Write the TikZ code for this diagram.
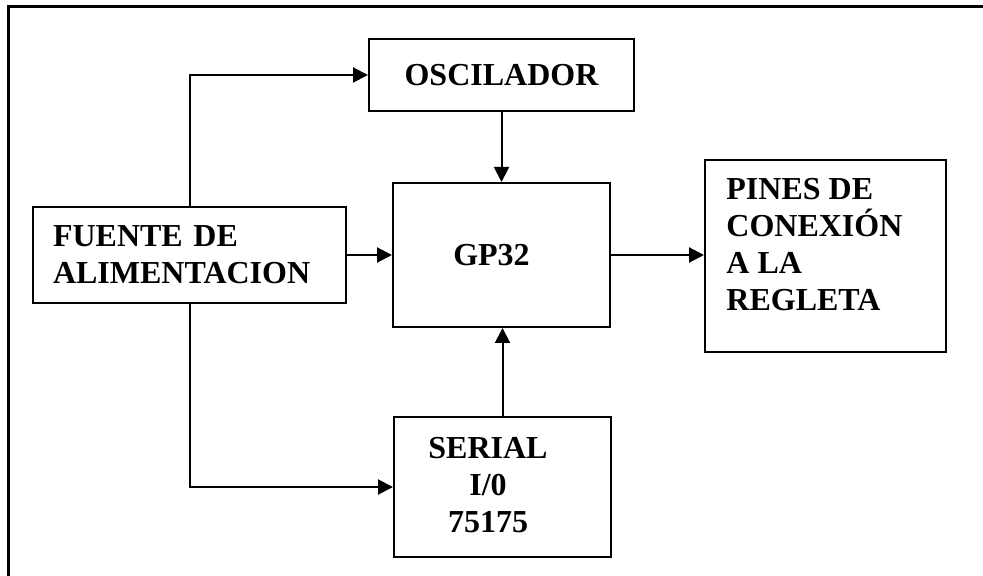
\documentclass[tikz,border=0pt]{standalone}
\usepackage{fontspec}
\setmainfont{Liberation Serif}
\usetikzlibrary{arrows.meta, positioning}

\begin{document}
\begin{tikzpicture}[
    x=0.5pt, y=-0.5pt,
    >={Triangle[length=7.5pt, width=7.5pt]},
    blk/.style={draw, line width=1pt, inner sep=0pt, font=\fontsize{16pt}{18.5pt}\selectfont\bfseries},
    txt/.style={inner sep=0pt, font=\fontsize{16pt}{18.5pt}\selectfont\bfseries},
    arr/.style={->, line width=1pt},
    frame/.style={line width=1.5pt},
]
\useasboundingbox (0,0) rectangle (983,576);
% ----- the frame round the figure, cut off at the right and at the bottom
\draw[frame] (8.5,576) -- (8.5,6.5) -- (983,6.5);
% ----- the blocks
\node[blk, minimum width=132.5pt, minimum height=36pt] (osc) at (501.5,75) {OSCILADOR};
\node[blk, minimum width=108.5pt, minimum height=72pt] (gp) at (501.5,255) {\hspace*{-10pt}GP32};
\node[blk, minimum width=156.5pt, minimum height=48pt, inner xsep=10pt, text width=136.5pt, align=left] (fuente) at (189.5,255) {FUENTE DE\\ALIMENTACION};
\node[blk, minimum width=120.5pt, minimum height=96pt] (pines) at (825.5,256) {};
\node[txt, anchor=north west, align=left] (pinestxt) at ([xshift=11pt, yshift=-9.5pt]pines.north west) {PINES DE\\CONEXIÓN\\A LA\\REGLETA};
\node[blk, minimum width=108.5pt, minimum height=70pt] (serial) at (502.5,487) {};
\node[txt, align=center] (serialtxt) at ([xshift=-7.25pt, yshift=1pt]serial.center) {SERIAL\\I/0\\75175};
% ----- the connectors
\draw[arr] (fuente.east) -- (gp.west);
\draw[arr] (osc.south) -- (gp.north);
\draw[arr] (gp.east) -- (gp.east -| pines.west);
\draw[arr] (serial.north) -- (serial.north |- gp.south);
\draw[arr] (fuente.north) |- (osc.west);
\draw[arr] (fuente.south) |- (serial.west);
\end{tikzpicture}
\end{document}
